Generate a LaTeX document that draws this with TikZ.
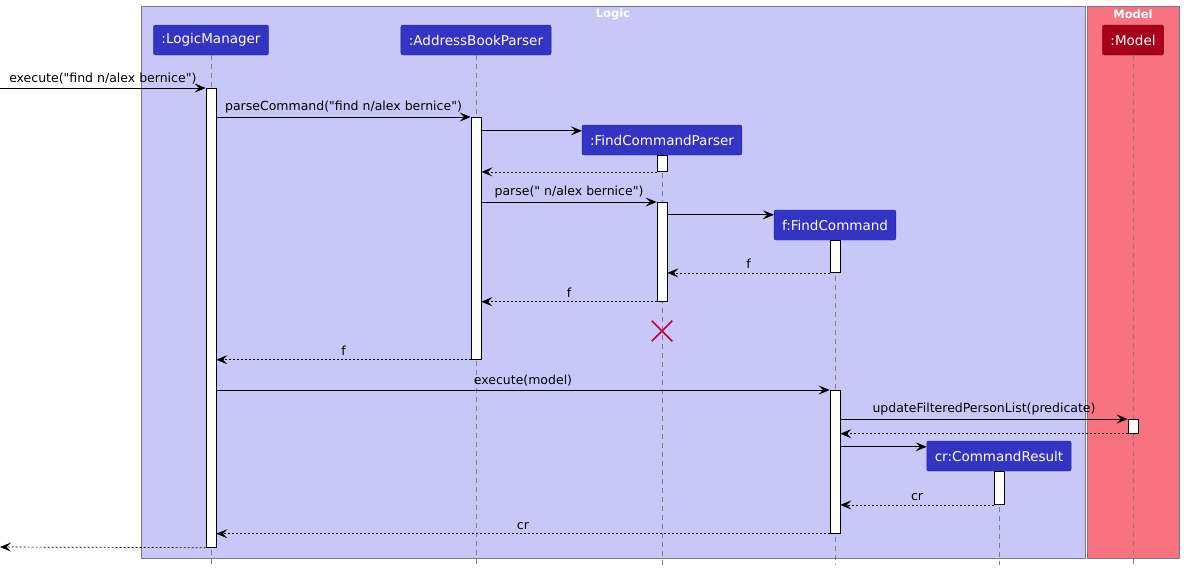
\documentclass[tikz,border=0pt]{standalone}
\usepackage{fontspec}
\setmainfont{DejaVu Sans}
\usetikzlibrary{arrows.meta,calc,shapes.misc}

\definecolor{logicbg}{RGB}{200,200,248}
\definecolor{modelbg}{RGB}{249,114,128}
\definecolor{partblue}{RGB}{51,51,196}
\definecolor{partred}{RGB}{168,0,24}
\definecolor{crossred}{RGB}{190,0,60}
\definecolor{frameline}{RGB}{120,120,150}

\newcommand{\qt}{\textquotedbl}

\tikzset{
	part/.style={fill=partblue, draw=partblue!70!black, text=white, rounded corners=2pt, minimum height=30pt, inner xsep=8pt, font=\fontsize{13.5}{15}\selectfont},
	bar/.style={draw, fill=white, minimum width=10pt, inner sep=0pt, anchor=north, line width=0.7pt},
	life/.style={draw=gray, dash pattern=on 5pt off 4pt, line width=0.6pt},
	msg/.style={-{Stealth[length=11pt,width=9pt,inset=4.5pt]}, line width=0.7pt},
	ret/.style={msg, dash pattern=on 2pt off 2pt},
	lbl/.style={above, midway, inner sep=4pt, font=\fontsize{12.5}{14}\selectfont},
	frametitle/.style={text=white, font=\bfseries\fontsize{11.5}{13}\selectfont}
}

\begin{document}
\begin{tikzpicture}[x=1pt, y=-1pt]

	\useasboundingbox (0,0) rectangle (1184,571);

	% boxes
	\draw[frameline, fill=logicbg] (141,6) rectangle (1085,558);
	\draw[frameline, fill=modelbg] (1087,6) rectangle (1179,558);
	\node[frametitle] (logict) at (613,14) {Logic};
	\node[frametitle] (modelt) at (1133,14) {Model};

	% participants
	\node[part] (lm) at (211,40) {:LogicManager};
	\node[part] (abp) at (476,40) {:AddressBookParser};
	\node[part] (fcp) at (662,140) {:FindCommandParser};
	\node[part] (fc) at (835,225) {f:FindCommand};
	\node[part] (cr) at (999,456) {cr:CommandResult};
	\node[part, fill=partred, draw=partred!70!black] (mdl) at (1133,40) {:Model};

	\coordinate (bot) at (0,565);
	\foreach \p in {lm,abp,fcp,fc,cr,mdl}
		\draw[life] (\p.south) -- (\p.south |- bot);

	% activations
	\node[bar, minimum height=459pt] (lm1) at (211,88) {};
	\node[bar, minimum height=242pt] (abp1) at (476,117) {};
	\node[bar, minimum height=16pt] (fcp1) at (fcp.south) {};
	\node[bar, minimum height=99pt] (fcp2) at (662,202) {};
	\node[bar, minimum height=32pt] (fc1) at (fc.south) {};
	\node[bar, minimum height=143pt] (fc2) at (835,390) {};
	\node[bar, minimum height=33pt] (cr1) at (cr.south) {};
	\node[bar, minimum height=14pt] (mdl1) at (1133,419) {};

	\node[cross out, draw=crossred, line width=1.5pt, minimum size=19pt, inner sep=0pt] (fcpx) at (662,331) {};

	% messages
	\coordinate (in) at (0,88);
	\coordinate (out) at (0,547);
	\coordinate (mk1) at ([yshift=-6pt]fcp.north west);
	\coordinate (mk2) at ([yshift=-5pt]fc.north west);
	\coordinate (mk3) at ([yshift=-6pt]cr.north west);

	\draw[msg] (in) -- node[lbl]{execute(\qt find n/alex bernice\qt)} (lm1.north west);
	\draw[msg] (lm1.east |- abp1.north) -- node[lbl]{parseCommand(\qt find n/alex bernice\qt)} (abp1.north west);
	\draw[msg] (abp1.east |- mk1) -- (mk1);
	\draw[ret] (fcp1.south west) -- (abp1.east |- fcp1.south);
	\draw[msg] (abp1.east |- fcp2.north) -- node[lbl]{parse(\qt{} n/alex bernice\qt)} (fcp2.north west);
	\draw[msg] (fcp2.east |- mk2) -- (mk2);
	\draw[ret] (fc1.south west) -- node[lbl]{f} (fcp2.east |- fc1.south);
	\draw[ret] (fcp2.south west) -- node[lbl]{f} (abp1.east |- fcp2.south);
	\draw[ret] (abp1.south west) -- node[lbl]{f} (lm1.east |- abp1.south);
	\draw[msg] (lm1.east |- fc2.north) -- node[lbl]{execute(model)} (fc2.north west);
	\draw[msg] (fc2.east |- mdl1.north) -- node[lbl]{updateFilteredPersonList(predicate)} (mdl1.north west);
	\draw[ret] (mdl1.south west) -- (fc2.east |- mdl1.south);
	\draw[msg] (fc2.east |- mk3) -- (mk3);
	\draw[ret] (cr1.south west) -- node[lbl]{cr} (fc2.east |- cr1.south);
	\draw[ret] (fc2.south west) -- node[lbl]{cr} (lm1.east |- fc2.south);
	\draw[ret] (lm1.south west) -- (out);

\end{tikzpicture}
\end{document}
